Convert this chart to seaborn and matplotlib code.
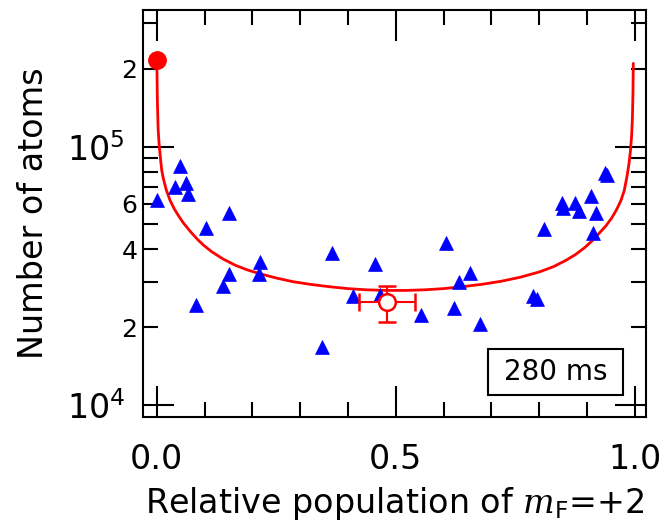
import matplotlib
matplotlib.use("Agg")
import matplotlib.pyplot as plt
import matplotlib.ticker as mticker
from matplotlib.patches import Rectangle
import seaborn as sns
import pandas as pd

# Measured atom numbers vs relative population of m_F=+2 (triangles)
tri_x = [0.001, 0.049, 0.038, 0.061, 0.065, 0.103, 0.152, 0.082, 0.138, 0.152,
         0.216, 0.213, 0.367, 0.457, 0.605, 0.655, 0.633, 0.410, 0.467, 0.552,
         0.621, 0.676, 0.345, 0.938, 0.941, 0.909, 0.848, 0.849, 0.875, 0.884,
         0.918, 0.912, 0.811, 0.788, 0.795]
tri_n = [62200, 84200, 70000, 72600, 65400, 48300, 55500, 24400, 28900, 32100,
         35600, 32100, 38700, 35200, 42500, 32400, 30000, 26300, 26700, 22300,
         23700, 20500, 16700, 79300, 77700, 64500, 60500, 57700, 60400, 56500,
         55500, 46500, 47900, 26400, 25700]

# Fitted curve
curve_x = [0.0004, 0.0013, 0.003, 0.0054, 0.008, 0.0105, 0.014, 0.02, 0.0278,
           0.037, 0.047, 0.0556, 0.07, 0.085, 0.0975, 0.115, 0.139, 0.165,
           0.19, 0.216, 0.25, 0.285, 0.321, 0.36, 0.40, 0.44, 0.48, 0.52,
           0.56, 0.60, 0.64, 0.68, 0.72, 0.76, 0.80, 0.83, 0.855, 0.875,
           0.895, 0.912, 0.927, 0.94, 0.952, 0.962, 0.971, 0.978, 0.984,
           0.988, 0.991, 0.9935, 0.9952, 0.9963, 0.997]
curve_n = [210000, 152000, 116000, 100000, 89500, 81000, 75000, 68000, 62000,
           57300, 53500, 50700, 47000, 43800, 41600, 39200, 36700, 34700,
           33300, 32200, 31000, 30000, 29300, 28700, 28200, 27900, 27750, 27750,
           27900, 28200, 28700, 29300, 30100, 31200, 32700, 34300, 36200, 38100,
           40600, 43400, 46500, 49400, 53000, 57000, 61800, 67500, 77000,
           86000, 96000, 110000, 130000, 160000, 210000]

# Initial condensate (filled circle) and averaged point (open circle)
init_x, init_n = 0.0, 216000
avg_x, avg_n = 0.482, 25000
avg_xerr = 0.058
avg_nerr_lo, avg_nerr_hi = 4000, 3900

box_text = "280 ms"

sns.set_style("ticks")
plt.rcParams["font.family"] = ["DejaVu Sans"]
plt.rcParams["mathtext.fontset"] = "custom"
plt.rcParams["mathtext.it"] = "DejaVu Serif:italic"
plt.rcParams["mathtext.rm"] = "DejaVu Sans"
plt.rcParams["mathtext.sf"] = "DejaVu Sans"
plt.rcParams["text.color"] = "black"
plt.rcParams["axes.labelcolor"] = "black"
plt.rcParams["xtick.color"] = "black"
plt.rcParams["ytick.color"] = "black"

fig = plt.figure(figsize=(6.63, 5.26), dpi=100)
ax = fig.add_axes([143 / 663, 1 - 417 / 526, 503 / 663, 407 / 526])

df_tri = pd.DataFrame({"x": tri_x, "n": tri_n})
df_curve = pd.DataFrame({"x": curve_x, "n": curve_n})

sns.lineplot(data=df_curve, x="x", y="n", ax=ax, color="#ff0000", lw=2.0,
             sort=False, estimator=None, zorder=3)
sns.scatterplot(data=df_tri, x="x", y="n", ax=ax, marker="^", s=100,
                color="#0000ff", edgecolor="#0000ff", linewidth=0.5, zorder=4)

ax.plot([init_x], [init_n], "o", ms=12.5, color="#ff0000", zorder=5,
        clip_on=False)
ax.errorbar([avg_x], [avg_n], xerr=avg_xerr,
            yerr=[[avg_nerr_lo], [avg_nerr_hi]], fmt="o", ms=12,
            mfc="white", mec="#ff0000", mew=1.8, ecolor="#ff0000",
            elinewidth=1.5, capsize=6.5, capthick=1.5, zorder=6)

ax.set_yscale("log")
ax.set_xlim(-0.0287, 1.0236)
ax.set_ylim(8980, 338000)

# x ticks
ax.xaxis.set_major_locator(mticker.FixedLocator([0.0, 0.5, 1.0]))
ax.xaxis.set_major_formatter(mticker.FixedFormatter(["0.0", "0.5", "1.0"]))
ax.xaxis.set_minor_locator(mticker.FixedLocator(
    [0.1, 0.2, 0.3, 0.4, 0.6, 0.7, 0.8, 0.9]))

# y ticks
ax.yaxis.set_major_locator(mticker.FixedLocator([1e4, 1e5]))
ax.yaxis.set_major_formatter(mticker.FixedFormatter(
    [r"$\mathregular{10^{4}}$", r"$\mathregular{10^{5}}$"]))
minor_vals = [2e4, 3e4, 4e4, 5e4, 6e4, 7e4, 8e4, 9e4, 2e5, 3e5]
minor_labs = ["2", "", "4", "", "6", "", "", "", "2", ""]
ax.yaxis.set_minor_locator(mticker.FixedLocator(minor_vals))
ax.yaxis.set_minor_formatter(mticker.FixedFormatter(minor_labs))

ax.tick_params(axis="both", which="both", direction="in", top=True,
               right=True, color="black", labelcolor="black", width=1.5)
ax.tick_params(axis="both", which="major", length=22)
ax.tick_params(axis="both", which="minor", length=11)
ax.tick_params(axis="x", which="major", labelsize=24, pad=19)
ax.tick_params(axis="y", which="major", labelsize=24, pad=13)
ax.tick_params(axis="y", which="minor", labelsize=18, pad=4)

for sp in ax.spines.values():
    sp.set_linewidth(1.5)
    sp.set_color("black")

ax.set_xlabel(r"Relative population of $\mathit{m}_{\mathrm{F}}$=+2",
              fontsize=24, labelpad=6)
ax.set_ylabel("Number of atoms", fontsize=24, labelpad=12)

# Time label in a framed box
ax.add_patch(Rectangle((0.686, 0.054), 0.268, 0.113, transform=ax.transAxes,
                       fc="white", ec="black", lw=1.5, zorder=7))
ax.text(0.820, 0.111, box_text, transform=ax.transAxes, fontsize=20,
        ha="center", va="center", zorder=8)

fig.savefig("out.png", dpi=100)
